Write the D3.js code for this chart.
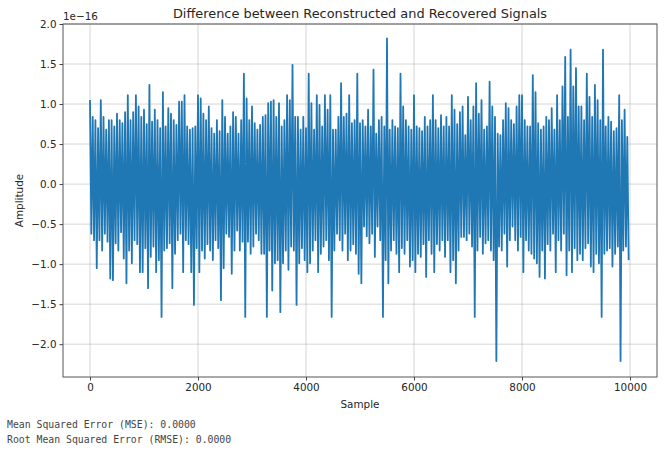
<!DOCTYPE html>
<html>
<head>
<meta charset="UTF-8">
<title>Difference between Reconstructed and Recovered Signals</title>
<style>
	body { margin: 0; background: #fff; }
	svg text { font-family: "DejaVu Sans", sans-serif; fill: #262626; }
	.grid line { stroke: #b0b0b0; stroke-opacity: 0.65; stroke-width: 0.8; }
	.tick line { stroke: #444; }
	.out { font-family: "DejaVu Sans Mono", monospace; font-size: 9.8px; fill: #444; }
</style>
</head>
<body>
<script src="https://d3js.org/d3.v7.min.js"></script>
<svg width="664" height="450"></svg>
<script>
// samples per bin; each bin keeps the highest and lowest value seen in the plot (units of 1e-16)
var binSize = 50;
var binMax = [
	1.05, 0.84, 0.80, 0.70, 1.05, 0.84, 0.68, 0.80, 0.80, 0.72,
	0.88, 0.80, 0.76, 0.90, 1.11, 0.80, 0.90, 1.11, 0.97, 0.84,
	0.93, 0.75, 1.24, 0.78, 0.93, 0.80, 0.70, 1.15, 0.72, 0.95,
	0.88, 0.80, 0.74, 1.03, 1.03, 1.11, 0.72, 0.68, 0.70, 0.72,
	1.11, 1.07, 0.88, 0.80, 0.97, 0.70, 0.63, 0.80, 0.66, 1.05,
	0.84, 0.63, 0.72, 0.90, 0.84, 0.63, 0.80, 1.38, 1.07, 0.80,
	0.97, 0.76, 0.68, 0.74, 0.84, 0.86, 1.01, 1.03, 1.05, 0.84,
	1.01, 0.72, 0.80, 1.11, 1.05, 1.49, 0.84, 0.84, 0.68, 0.84,
	0.70, 1.38, 1.01, 0.68, 1.11, 0.99, 0.72, 1.11, 0.93, 1.11,
	0.68, 0.68, 0.84, 1.26, 0.84, 0.88, 1.11, 0.76, 0.80, 1.38,
	0.76, 0.80, 0.72, 0.93, 0.72, 1.43, 0.63, 0.80, 0.84, 0.72,
	1.82, 0.68, 0.80, 0.72, 0.70, 1.38, 0.97, 0.80, 0.72, 0.68,
	1.11, 0.72, 0.70, 0.66, 0.84, 0.72, 0.80, 1.11, 0.80, 0.70,
	0.86, 0.72, 0.84, 0.72, 1.11, 0.93, 0.75, 0.90, 0.97, 0.61,
	1.09, 0.80, 0.97, 1.26, 0.88, 1.05, 0.68, 0.72, 1.28, 0.97,
	0.84, 0.63, 0.61, 0.80, 1.01, 0.95, 0.80, 0.75, 0.97, 1.11,
	1.11, 0.80, 0.72, 0.72, 1.36, 1.15, 0.76, 0.68, 0.72, 0.84,
	0.80, 0.95, 0.68, 1.11, 0.80, 1.22, 1.59, 0.84, 1.68, 1.22,
	1.45, 0.97, 0.97, 0.80, 1.38, 1.09, 0.84, 1.24, 1.05, 0.80,
	1.68, 0.72, 0.84, 0.78, 0.66, 0.70, 1.11, 0.80, 0.93, 0.59
];
var binMin = [
	-0.62, -0.70, -1.05, -0.70, -0.83, -0.62, -0.72, -1.18, -1.20, -0.74,
	-0.83, -0.60, -0.93, -1.24, -0.83, -0.99, -0.70, -0.75, -1.10, -1.10,
	-0.80, -1.30, -0.91, -0.78, -1.10, -0.95, -1.66, -0.83, -0.80, -0.74,
	-1.30, -0.87, -0.70, -0.62, -1.10, -0.70, -0.75, -1.10, -1.51, -0.80,
	-1.10, -0.83, -0.93, -0.75, -0.83, -0.95, -0.70, -0.80, -1.45, -1.05,
	-0.62, -0.66, -1.12, -0.83, -0.58, -0.83, -0.72, -1.66, -0.72, -0.87,
	-0.78, -0.62, -0.70, -0.87, -0.87, -1.66, -0.83, -1.33, -0.99, -0.95,
	-1.60, -0.99, -0.83, -1.07, -0.78, -0.83, -1.51, -0.99, -0.80, -0.95,
	-1.10, -0.99, -0.83, -0.70, -1.10, -0.87, -0.78, -0.70, -0.95, -1.66,
	-0.83, -0.62, -0.70, -0.83, -0.62, -0.95, -0.83, -0.75, -0.87, -1.12,
	-1.24, -0.53, -0.65, -0.74, -0.62, -0.91, -0.53, -0.70, -1.66, -0.95,
	-1.24, -0.83, -0.70, -0.87, -1.10, -0.80, -0.87, -0.70, -1.03, -0.95,
	-1.10, -0.87, -0.91, -0.75, -1.16, -0.70, -0.87, -1.10, -0.75, -0.83,
	-0.70, -0.91, -0.70, -1.10, -0.95, -1.24, -0.83, -0.66, -0.66, -0.70,
	-0.62, -0.78, -1.66, -0.83, -0.66, -0.87, -0.74, -0.70, -0.83, -0.95,
	-2.21, -0.78, -0.83, -0.62, -1.03, -0.70, -0.53, -0.70, -0.83, -0.66,
	-1.10, -0.70, -0.83, -0.87, -0.93, -0.99, -1.16, -0.83, -1.18, -0.75,
	-0.83, -0.62, -1.10, -0.70, -0.83, -0.62, -1.14, -0.83, -1.10, -0.80,
	-0.95, -0.87, -0.95, -0.80, -0.74, -1.03, -1.10, -0.87, -0.99, -1.66,
	-0.87, -0.83, -0.80, -1.03, -0.87, -0.78, -2.21, -0.83, -0.78, -0.95
];
var xTicks = [0, 2000, 4000, 6000, 8000, 10000];
var yTicks = [-2.0, -1.5, -1.0, -0.5, 0.0, 0.5, 1.0, 1.5, 2.0];
var outputLines = [
	"Mean Squared Error (MSE): 0.0000",
	"Root Mean Squared Error (RMSE): 0.0000"
];

var svg = d3.select("svg"),
	pl = 63, pr = 657, pt = 24, pb = 377;

var x = d3.scaleLinear().domain([-500, 10500]).range([pl, pr]);
var y = d3.scaleLinear().domain([-2.41, 2.0]).range([pb, pt]);

// zig-zag through each bin: max at the start, min half way
var points = [];
binMax.forEach(function(m, i) {
	points.push([i * binSize, m]);
	points.push([i * binSize + binSize / 2, binMin[i]]);
});

svg.append("rect").attr("width", 664).attr("height", 450).attr("fill", "#fff");

var grid = svg.append("g").attr("class", "grid");
grid.selectAll(".gx").data(xTicks).enter().append("line")
	.attr("x1", function(d) { return x(d); }).attr("x2", function(d) { return x(d); })
	.attr("y1", pt).attr("y2", pb);
grid.selectAll(".gy").data(yTicks).enter().append("line")
	.attr("x1", pl).attr("x2", pr)
	.attr("y1", function(d) { return y(d); }).attr("y2", function(d) { return y(d); });

svg.append("defs").append("clipPath").attr("id", "clip")
	.append("rect").attr("x", pl).attr("y", pt).attr("width", pr - pl).attr("height", pb - pt);

svg.append("path")
	.datum(points)
	.attr("clip-path", "url(#clip)")
	.attr("fill", "none")
	.attr("stroke", "#1f77b4")
	.attr("stroke-width", 1.8)
	.attr("stroke-linejoin", "round")
	.attr("d", d3.line().x(function(d) { return x(d[0]); }).y(function(d) { return y(d[1]); }));

// frame
svg.append("rect")
	.attr("x", pl).attr("y", pt).attr("width", pr - pl).attr("height", pb - pt)
	.attr("fill", "none").attr("stroke", "#555").attr("stroke-width", 1);

var xAxis = svg.append("g")
	.attr("transform", "translate(0," + pb + ")")
	.call(d3.axisBottom(x).tickValues(xTicks).tickSize(3.5).tickPadding(3).tickFormat(d3.format("d")));
var yAxis = svg.append("g")
	.attr("transform", "translate(" + pl + ",0)")
	.call(d3.axisLeft(y).tickValues(yTicks).tickSize(3.5).tickPadding(3).tickFormat(d3.format(".1f")));
[xAxis, yAxis].forEach(function(a) {
	a.select(".domain").remove();
	a.selectAll("text").style("font-size", "10.4px").attr("fill", "#262626");
});

svg.append("text")
	.attr("x", pl).attr("y", 20)
	.style("font-size", "10.4px")
	.text("1e\u221216");

svg.append("text")
	.attr("x", (pl + pr) / 2).attr("y", 18)
	.attr("text-anchor", "middle")
	.style("font-size", "12.9px")
	.text("Difference between Reconstructed and Recovered Signals");

svg.append("text")
	.attr("x", (pl + pr) / 2).attr("y", 408)
	.attr("text-anchor", "middle")
	.style("font-size", "10.4px")
	.text("Sample");

svg.append("text")
	.attr("transform", "translate(23," + ((pt + pb) / 2) + ") rotate(-90)")
	.attr("text-anchor", "middle")
	.style("font-size", "10.4px")
	.text("Amplitude");

svg.selectAll(".out").data(outputLines).enter().append("text")
	.attr("class", "out")
	.attr("x", 7)
	.attr("y", function(d, i) { return 428 + i * 15; })
	.text(function(d) { return d; });
</script>
</body>
</html>
